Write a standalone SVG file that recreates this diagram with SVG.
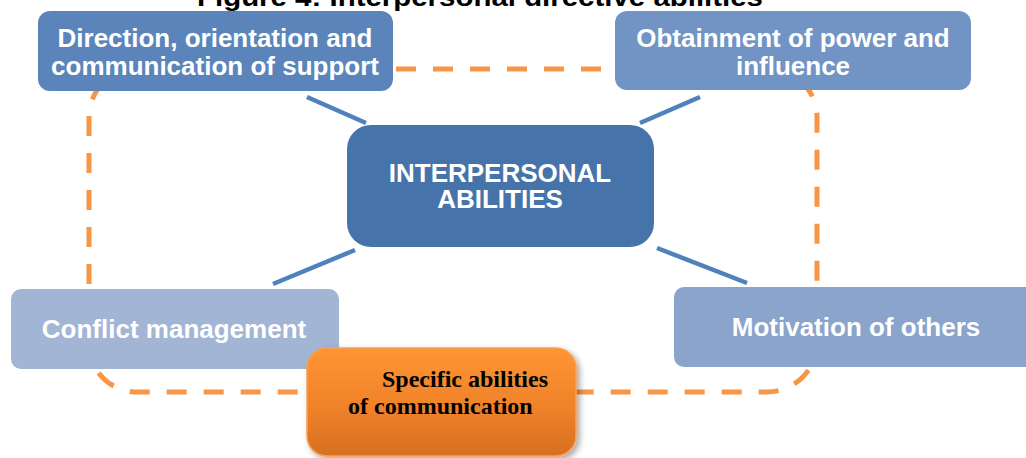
<svg xmlns="http://www.w3.org/2000/svg" width="1026" height="458" viewBox="0 0 1026 458">
  <style>
    .box-label { font-family: "Liberation Sans", Arial, sans-serif; font-weight: bold; font-size: 26px; fill: #ffffff; text-anchor: middle; }
    .title { font-family: "Liberation Sans", Arial, sans-serif; font-weight: bold; font-size: 26px; fill: #000000; text-anchor: middle; }
    .serif-label { font-family: "Liberation Serif", "Times New Roman", serif; font-weight: bold; font-size: 24px; fill: #000000; }
    .spoke { stroke: #4f81bd; stroke-width: 4.5; fill: none; }
    .loop { stroke: #f79646; stroke-width: 5; fill: none; stroke-dasharray: 20 17; }
  </style>
  <defs>
    <linearGradient id="orangeFill" x1="0" y1="0" x2="0" y2="1">
      <stop offset="0" stop-color="#ff9533"/>
      <stop offset="0.55" stop-color="#f0822a"/>
      <stop offset="1" stop-color="#d6701f"/>
    </linearGradient>
    <filter id="softShadow" x="-10%" y="-10%" width="125%" height="125%">
      <feGaussianBlur in="SourceAlpha" stdDeviation="3"/>
      <feOffset dx="3" dy="3" result="b"/>
      <feComponentTransfer><feFuncA type="linear" slope="0.35"/></feComponentTransfer>
      <feMerge><feMergeNode/><feMergeNode in="SourceGraphic"/></feMerge>
    </filter>
  </defs>

  <rect width="1026" height="458" fill="#ffffff"/>

  <text class="title" x="480" y="6" textLength="566" lengthAdjust="spacingAndGlyphs">Figure 4: Interpersonal directive abilities</text>

  <!-- connectors -->
  <g id="connectors">
    <path class="loop" d="M 137 69 L 769 69 A 48 48 0 0 1 817 117 L 817 342 A 50 50 0 0 1 767 392 L 137 392 A 48 48 0 0 1 89 344 L 89 117 A 48 48 0 0 1 137 69 Z"/>
    <line class="spoke" x1="307" y1="97" x2="366" y2="123"/>
    <line class="spoke" x1="640" y1="123" x2="700" y2="97"/>
    <line class="spoke" x1="355" y1="250" x2="273" y2="284"/>
    <line class="spoke" x1="657" y1="248" x2="747" y2="283"/>
  </g>

  <g id="node-direction">
    <rect x="38" y="11" width="355" height="80" rx="12" fill="#5b85ba"/>
    <text class="box-label" x="215" y="47">Direction, orientation and</text>
    <text class="box-label" x="215" y="75">communication of support</text>
  </g>

  <g id="node-power">
    <rect x="615" y="11" width="356" height="79" rx="12" fill="#7294c4"/>
    <text class="box-label" x="793" y="47">Obtainment of power and</text>
    <text class="box-label" x="793" y="75">influence</text>
  </g>

  <g id="node-center">
    <rect x="347" y="125" width="307" height="122" rx="24" fill="#4674aa"/>
    <text class="box-label" x="500" y="182">INTERPERSONAL</text>
    <text class="box-label" x="500" y="208">ABILITIES</text>
  </g>

  <g id="node-conflict">
    <rect x="11" y="289" width="328" height="80" rx="10" fill="#a3b5d5"/>
    <text class="box-label" x="174" y="338">Conflict management</text>
  </g>

  <g id="node-motivation">
    <rect x="674" y="287" width="370" height="80" rx="10" fill="#8aa4cb"/>
    <text class="box-label" x="856" y="336">Motivation of others</text>
  </g>

  <g id="node-communication">
    <rect x="307" y="348" width="269" height="108" rx="20" fill="url(#orangeFill)" stroke="#f7a157" stroke-width="1.5" filter="url(#softShadow)"/>
    <text class="serif-label" x="382" y="387">Specific abilities</text>
    <text class="serif-label" x="348" y="414">of communication</text>
  </g>
</svg>
